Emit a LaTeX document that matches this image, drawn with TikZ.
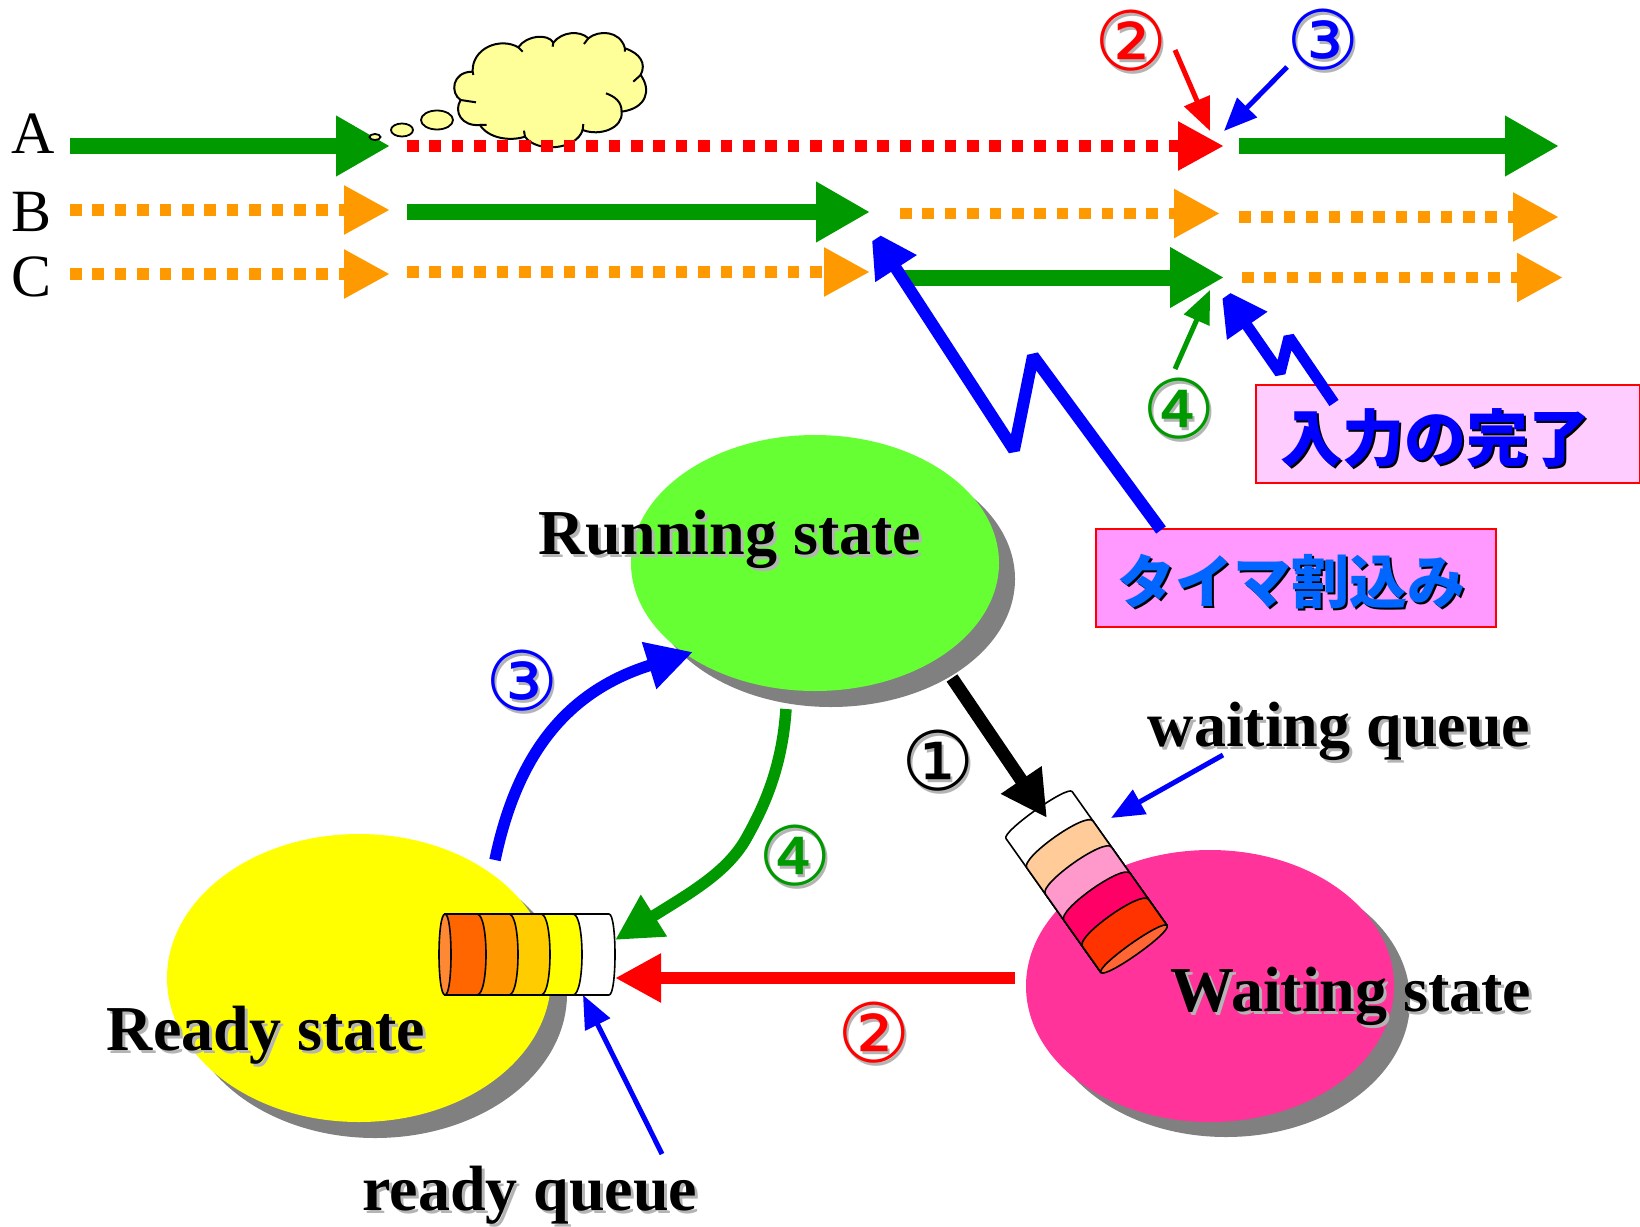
\documentclass[tikz,border=0pt]{standalone}
\usepackage{fontspec}
\setmainfont{Liberation Serif}
\newfontfamily\cjk{Noto Sans CJK JP}
\newfontfamily\circf{DejaVu Sans}
\usetikzlibrary{arrows.meta,shapes.geometric}
\definecolor{grn}{HTML}{009900}
\definecolor{org}{HTML}{FF9900}
\definecolor{blu}{HTML}{0000FF}
\definecolor{skyb}{HTML}{0066FF}
\definecolor{shgray}{HTML}{808080}
\definecolor{lgray}{HTML}{B4B4B4}
\definecolor{cloudy}{HTML}{FFFF99}
\definecolor{boxin}{HTML}{FFCCFF}
\definecolor{boxti}{HTML}{FF99FF}
\definecolor{runc}{HTML}{66FF33}
\definecolor{waic}{HTML}{FF3399}
\definecolor{qa}{HTML}{FF8833}
\definecolor{qb}{HTML}{FF6600}
\definecolor{qc}{HTML}{FF9900}
\definecolor{qd}{HTML}{FFCC00}
\definecolor{qe}{HTML}{FFFF00}
\definecolor{wa}{HTML}{FF6633}
\definecolor{wb}{HTML}{FF3300}
\definecolor{wc}{HTML}{FF0066}
\definecolor{wd}{HTML}{FF99CC}
\definecolor{we}{HTML}{FFCC99}
\newcommand\shdw[4]{\leavevmode\rlap{\kern#1pt\raisebox{-#2pt}{\color{#3}#4}}#4}
\newcommand\fsz[1]{\fontsize{#1}{#1}\selectfont}
% queue drawn in local axes: u along the tube, v across it
\newcommand\queue[6]{%
  \foreach \uu/\cc/\bb in {164/#6/8,128/#5/12,96/#4/12,64/#3/12,32/#2/12}{
    \filldraw[qline,fill=\cc] (0,-40.5) -- (\uu,-40.5) .. controls (\uu+\bb,-40.5) and (\uu+\bb,40.5) .. (\uu,40.5) -- (0,40.5) -- cycle;
  }
  \filldraw[qline,fill=#1] (0,-40.5) .. controls (8,-40.5) and (8,40.5) .. (0,40.5) .. controls (-8,40.5) and (-8,-40.5) .. (0,-40.5) -- cycle;
}
\tikzset{
  bigarrow/.style={draw=#1,line width=16pt,-{Triangle[length=54pt,width=57pt,fill=#1]}},
  dotarrow/.style={draw=#1,line width=11.5pt,dash pattern=on 11.5pt off 10.9pt,-{Triangle[length=46pt,width=46pt,fill=#1]}},
  thinarrow/.style={draw=#1,line width=5pt,-{Triangle[length=33pt,width=27pt,fill=#1]}},
  boltarrow/.style={draw=#1,line width=12pt,miter limit=2,-{Triangle[length=46pt,width=46pt,fill=#1]}},
  curvearrow/.style={draw=#1,line width=11.5pt,-{Triangle[length=46pt,width=46pt,fill=#1]}},
  qline/.style={draw=black,line width=1.6pt,line join=round},
  stateshadow/.style={fill=shgray,draw=none},
  statenode/.style={draw=none,ellipse,inner sep=0pt},
  cloudline/.style={draw=black,line width=2pt},
  bubble/.style={draw=black,line width=1.8pt,fill=cloudy},
  bigtext/.style={font=\bfseries\fsz{64},text=black,inner sep=0pt},
  rowlabel/.style={font=\fsz{60},text=black,inner sep=0pt},
  circnum/.style={font=\circf\fsz{82},inner sep=0pt},
  notebox/.style={draw=red,line width=1.6pt,inner sep=0pt,anchor=north west},
  notetext/.style={font=\cjk\bfseries,inner sep=0pt},
}
\begin{document}
\begin{tikzpicture}[x=1pt,y=-1pt]
\useasboundingbox (0,0) rectangle (1640,1226);
\fill[white] (0,0) rectangle (1640,1226);

% thought cloud
\begin{scope}[shift={(340,20)},x=0.3333pt,y=-0.3333pt]
\filldraw[cloudline,fill=cloudy] (398,155) .. controls (395,85) and (480,50) .. (535,82)
 .. controls (560,45) and (625,40) .. (640,68)
 .. controls (665,35) and (720,30) .. (745,55)
 .. controls (775,30) and (840,30) .. (855,85)
 .. controls (900,100) and (920,130) .. (902,165)
 .. controls (935,210) and (920,265) .. (845,275)
 .. controls (850,325) and (780,350) .. (728,330)
 .. controls (710,390) and (590,400) .. (555,350)
 .. controls (510,365) and (445,355) .. (420,315)
 .. controls (365,320) and (340,275) .. (362,240)
 .. controls (330,220) and (335,155) .. (398,155) -- cycle;
\draw[cloudline] (398,155) -- (400,165) (535,82) -- (548,95) (640,68) -- (638,80)
 (745,55) -- (732,72) (855,85) -- (855,95) (902,165) -- (880,185)
 (845,275) .. controls (845,245) and (825,230) .. (798,220)
 (728,330) -- (730,312) (555,350) -- (552,332) (420,315) -- (440,315) (362,240) -- (408,247);
\end{scope}

% time-line coordinates
\coordinate (a1s) at (70,146);   \coordinate (a1e) at (390,146);
\coordinate (a2s) at (407,146);  \coordinate (a2e) at (1224,146);
\coordinate (a3s) at (1239,146); \coordinate (a3e) at (1559,146);
\coordinate (b1s) at (70,210);   \coordinate (b1e) at (390,210);
\coordinate (b2s) at (407,212);  \coordinate (b2e) at (870,212);
\coordinate (b3s) at (900,213.5);\coordinate (b3e) at (1220,213.5);
\coordinate (b4s) at (1239,217); \coordinate (b4e) at (1559,217);
\coordinate (c1s) at (70,274);   \coordinate (c1e) at (390,274);
\coordinate (c2s) at (407,272);  \coordinate (c2e) at (870,272);
\coordinate (c3s) at (903,277.5);\coordinate (c3e) at (1224,277.5);
\coordinate (c4s) at (1242,277.5);\coordinate (c4e) at (1563,277.5);

\draw[bigarrow=grn] (a1s) -- (a1e);
\draw[dotarrow=red] (a2s) -- (a2e);
\draw[bigarrow=grn] (a3s) -- (a3e);
\draw[dotarrow=org] (b1s) -- (b1e);
\draw[bigarrow=grn] (b2s) -- (b2e);
\draw[dotarrow=org] (b3s) -- (b3e);
\draw[dotarrow=org] (b4s) -- (b4e);
\draw[dotarrow=org] (c1s) -- (c1e);
\draw[dotarrow=org] (c2s) -- (c2e);
\draw[bigarrow=grn] (c3s) -- (c3e);
\draw[dotarrow=org] (c4s) -- (c4e);

\draw[bubble] (437,120) ellipse [x radius=16,y radius=9.5];
\draw[bubble] (402,130) ellipse [x radius=11,y radius=6.5];
\draw[bubble] (375,137) ellipse [x radius=5.5,y radius=3];

\node[rowlabel] (lA) at (33,134) {A};
\node[rowlabel] (lB) at (32,212) {B};
\node[rowlabel] (lC) at (32,277) {C};

% annotation boxes
\node[notebox,fill=boxin,minimum width=384pt,minimum height=98pt] (nbin) at (1255,384) {};
\node[notebox,fill=boxti,minimum width=400pt,minimum height=98pt] (nbti) at (1095,528) {};

% lightning arrows
\coordinate (tiS) at (1161,530); \coordinate (tiA) at (1033,356); \coordinate (tiB) at (1014,450); \coordinate (tiT) at (871,230);
\draw[boltarrow=blu] (tiS) -- (tiA) -- (tiB) -- (tiT);
\coordinate (inS) at (1334,403); \coordinate (inA) at (1289,337); \coordinate (inB) at (1280,373); \coordinate (inT) at (1221,288);
\draw[boltarrow=blu,line width=11pt] (inS) -- (inA) -- (inB) -- (inT);

\node[notetext,text=blu,font=\cjk\bfseries\fsz{62}] (tin) at (1435,439) {\shdw{2.5}{2.5}{black}{入力の完了}};
\node[notetext,text=skyb,font=\cjk\bfseries\fsz{58}] (tti) at (1291,582.5) {\shdw{2.5}{2.5}{black}{タイマ割込み}};

% small pointers
\coordinate (p2s) at (1175,50);  \coordinate (p2t) at (1210,131);
\coordinate (p3s) at (1287,67);  \coordinate (p3t) at (1224,131);
\coordinate (p4s) at (1175,369); \coordinate (p4t) at (1210,290);
\draw[thinarrow=red] (p2s) -- (p2t);
\draw[thinarrow=blu] (p3s) -- (p3t);
\draw[thinarrow=grn] (p4s) -- (p4t);

\node[circnum,text=red] (n2t) at (1131,42) {\shdw{2.5}{2.5}{lgray}{②}};
\node[circnum,text=blu] (n3t) at (1323,41) {\shdw{2.5}{2.5}{lgray}{③}};
\node[circnum,text=grn] (n4t) at (1179,410) {\shdw{2.5}{2.5}{lgray}{④}};

% states
\fill[stateshadow] (831,579) ellipse [x radius=184,y radius=128];
\fill[stateshadow] (375,994) ellipse [x radius=192,y radius=144];
\fill[stateshadow] (1226,1001) ellipse [x radius=184,y radius=136];
\node[statenode,fill=runc,minimum width=368pt,minimum height=256pt] (running) at (815,563) {};
\node[statenode,fill=qe,minimum width=384pt,minimum height=288pt] (ready) at (359,978) {};
\node[statenode,fill=waic,minimum width=368pt,minimum height=272pt] (waiting) at (1210,986) {};

% queues
\begin{scope}[shift={(445,954.5)},x={(1pt,0pt)},y={(0pt,1pt)}]
\queue{qa}{qb}{qc}{qd}{qe}{white}
\end{scope}
\begin{scope}[shift={(1134,949)},x={(-0.579pt,0.817pt)},y={(0.817pt,0.579pt)}]
\queue{wa}{wb}{wc}{wd}{we}{white}
\end{scope}

% transitions
\coordinate (t1s) at (952,678);  \coordinate (t1e) at (1047,818);
\coordinate (t2s) at (1015,978); \coordinate (t2e) at (615,978);
\coordinate (t3s) at (495,860);  \coordinate (t3e) at (693,652);
\coordinate (t4s) at (786,709);  \coordinate (t4e) at (615,940);
\draw[curvearrow=black,line width=13pt] (t1s) -- (t1e);
\draw[curvearrow=red] (t2s) -- (t2e);
\draw[curvearrow=blu] (t3s) .. controls (518,750) and (570,690) .. (t3e);
\draw[curvearrow=grn] (t4s) .. controls (782,770) and (762,810) .. (747,837) .. controls (728,872) and (690,893) .. (t4e);

\coordinate (wqs) at (1223,755); \coordinate (wqt) at (1111,818);
\coordinate (rqs) at (662,1154); \coordinate (rqt) at (583,995);
\draw[thinarrow=blu] (wqs) -- (wqt);
\draw[thinarrow=blu] (rqs) -- (rqt);

\node[circnum,text=black] (n1b) at (938,762) {\shdw{2.5}{2.5}{lgray}{①}};
\node[circnum,text=red] (n2b) at (874,1034) {\shdw{2.5}{2.5}{lgray}{②}};
\node[circnum,text=blu] (n3b) at (522,682) {\shdw{2.5}{2.5}{lgray}{③}};
\node[circnum,text=grn] (n4b) at (795,857) {\shdw{2.5}{2.5}{lgray}{④}};

\node[bigtext] (trun) at (730,540.5) {\shdw{3}{3}{lgray}{Running state}};
\node[bigtext] (twq) at (1339,732.5) {\shdw{3}{3}{lgray}{waiting queue}};
\node[bigtext] (twai) at (1351,998) {\shdw{3}{3}{lgray}{Waiting state}};
\node[bigtext] (trdy) at (266,1037) {\shdw{3}{3}{lgray}{Ready state}};
\node[bigtext] (trq) at (530,1197) {\shdw{3}{3}{lgray}{ready queue}};
\end{tikzpicture}
\end{document}
